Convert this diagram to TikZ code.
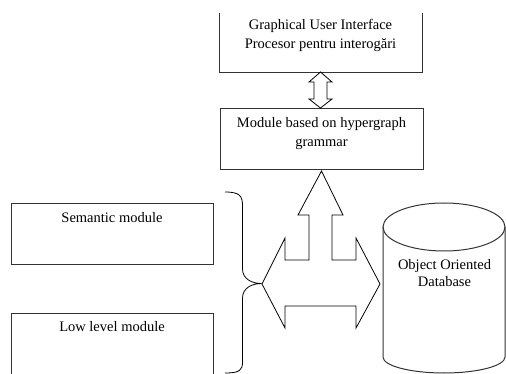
\documentclass[tikz,border=0pt]{standalone}
\usepackage{fontspec}
\setmainfont{Liberation Serif}
\usetikzlibrary{positioning,calc}

\begin{document}
\begin{tikzpicture}[x=1pt, y=-1pt,
    font=\fontsize{14.5}{19}\selectfont,
    box/.style={minimum width=202pt, minimum height=61pt, inner sep=0pt, anchor=north west},
    boxtext/.style={align=center, inner sep=0pt},
    outline/.style={draw=black!80, line width=1pt},
    blockarrow/.style={draw=black, line width=0.8pt, line join=miter}]
  \useasboundingbox (0,0) rectangle (506,374);

  % --- interface on top, grammar module below it ---
  \node[box, minimum width=202.5pt, minimum height=59pt] (gui) at (219.5,13) {};
  \draw[outline] (gui.north west) -- (gui.south west) -- (gui.south east) -- (gui.north east);
  \node[boxtext] (guitext) at (320.5,35.5) {Graphical User Interface\\Procesor pentru interogări};

  \node[box, outline, minimum width=203pt] (hgm) at (220,108) {};
  \node[boxtext] (hgmtext) at (321.5,133.5) {Module based on hypergraph\\grammar};

  % small two-way arrow between them
  \draw[blockarrow] (320.5,72) -- (332,82) -- (327,82) -- (327,99) -- (332,99)
    -- (320.5,108) -- (309,99) -- (314,99) -- (314,82) -- (309,82) -- cycle;

  % --- the two lower modules ---
  \node[box, outline] (sem) at (11,203) {};
  \node[boxtext] (semtext) at (112,218) {Semantic module};

  \node[box] (low) at (11,313) {};
  \draw[outline] (low.south west) -- (low.north west) -- (low.north east) -- (low.south east);
  \node[boxtext] (lowtext) at (112,327) {Low level module};

  % brace grouping them
  \draw[line width=0.8pt] (225,192) .. controls (240,192) and (242.5,196) .. (242.5,206)
    -- (242.5,269) .. controls (242.5,279) and (252,283.5) .. (261.5,283.5)
    .. controls (252,283.5) and (242.5,288) .. (242.5,298)
    -- (242.5,362) .. controls (242.5,370) and (240,373) .. (225,373);

  % --- three-way block arrow ---
  \draw[blockarrow] (321.5,171) -- (343,215) -- (332,215) -- (332,260) -- (356,260)
    -- (356,238) -- (380,284) -- (356,328) -- (356,306) -- (285,306) -- (285,328)
    -- (262,284) -- (285,238) -- (285,260) -- (309,260) -- (309,215) -- (298,215) -- cycle;

  % --- database cylinder ---
  \draw[outline] (444,227) ellipse [x radius=61pt, y radius=24pt];
  \draw[outline] (383,227) -- (383,357)
    arc[start angle=180, end angle=360, x radius=61pt, y radius=16pt] -- (505,227);
  \node[boxtext, font=\fontsize{14.5}{17}\selectfont] (db) at (444.5,273.5) {Object Oriented\\Database};
\end{tikzpicture}
\end{document}
